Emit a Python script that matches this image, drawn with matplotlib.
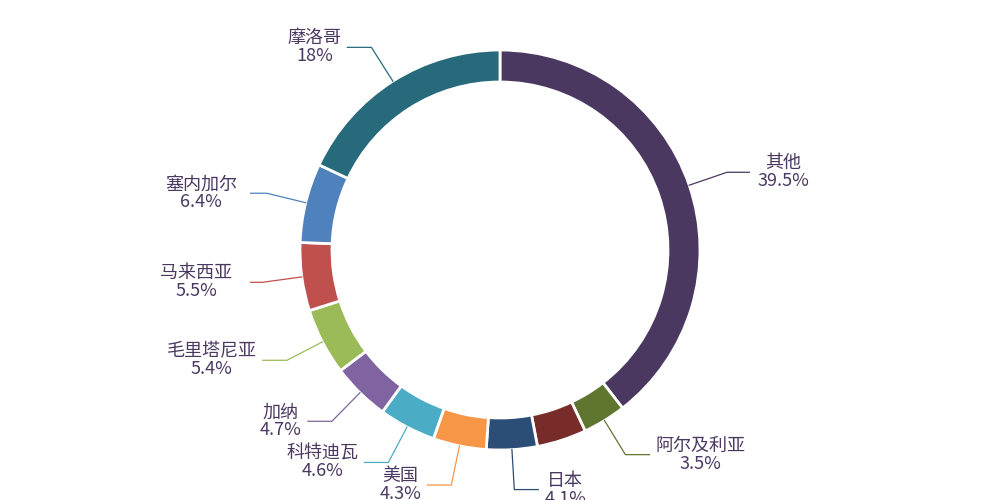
import numpy as np
import matplotlib
matplotlib.use("Agg")
import matplotlib.pyplot as plt

plt.rcParams['font.family'] = ['Noto Sans CJK SC', 'DejaVu Sans']

labels = ['其他', '阿尔及利亚', '', '日本', '美国', '科特迪瓦', '加纳', '毛里塔尼亚', '马来西亚', '塞内加尔', '摩洛哥']
values = [39.5, 3.5, 4.0, 4.1, 4.3, 4.6, 4.7, 5.4, 5.5, 6.4, 18.0]
pct_text = ['39.5%', '3.5%', '', '4.1%', '4.3%', '4.6%', '4.7%', '5.4%', '5.5%', '6.4%', '18%']
colors = ['#4b3861', '#5f7530', '#772c2a', '#2c4d75', '#f79646', '#4bacc6',
          '#8064a2', '#9bbb59', '#c0504d', '#4f81bd', '#276a7c']

fig = plt.figure(figsize=(10, 5), dpi=100)
ax = fig.add_axes([0.0, 0.0, 1.0, 1.0])
ax.set_xlim(-2.81, 2.81)
ax.set_ylim(-1.405, 1.405)
ax.set_aspect('equal')
ax.axis('off')

ax.pie(values, colors=colors, startangle=90, counterclock=False, radius=1.0,
       wedgeprops=dict(width=0.16, edgecolor='white', linewidth=2))

total = sum(values)
cum = 0
for lab, v, p, c in zip(labels, values, pct_text, colors):
    mid = 90 - (cum + v / 2) / total * 360
    cum += v
    if not lab:
        continue
    a = np.deg2rad(mid)
    x0, y0 = np.cos(a), np.sin(a)
    x1, y1 = 1.2 * x0, 1.2 * y0
    side = 1 if x0 >= 0 else -1
    x2 = x1 + side * 0.12
    ax.plot([x0, x1, x2], [y0, y1, y1], color=c, lw=0.9)
    ax.text(x2 + side * 0.03, y1, lab + '\n' + p, ha='left' if side > 0 else 'right',
            va='center', fontsize=13, color='#4b3861', linespacing=1.0, multialignment='center')

fig.savefig('out.png')
